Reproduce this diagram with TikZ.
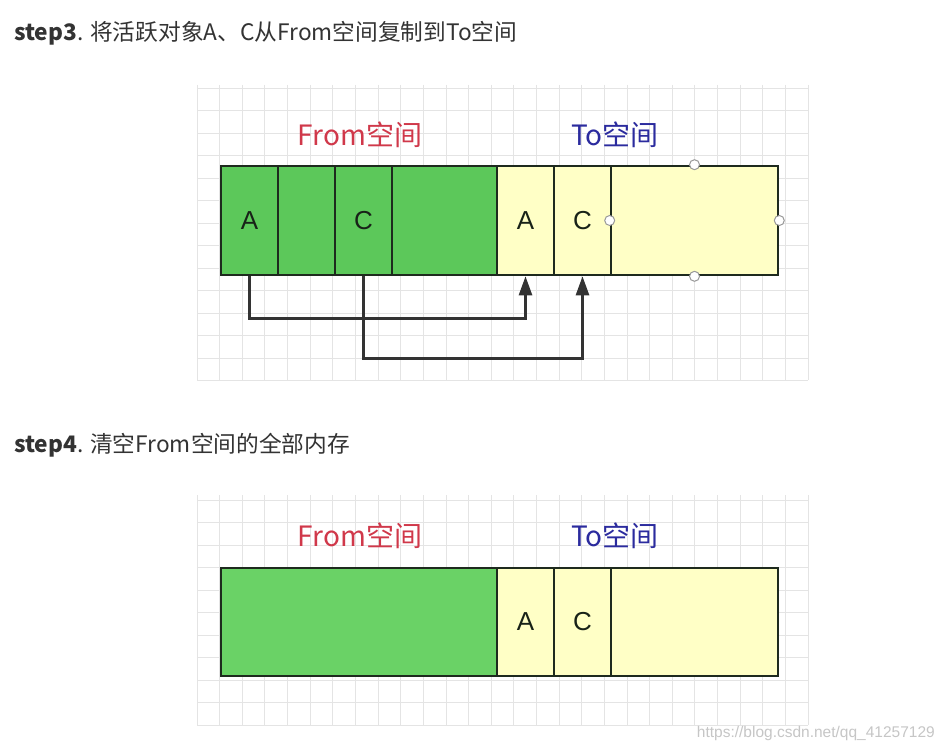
\documentclass[tikz,border=0pt]{standalone}
\usepackage{fontspec}
\setmainfont{Noto Sans CJK SC}
\newfontfamily\lat{Liberation Sans}
\usetikzlibrary{arrows.meta}
\definecolor{gridc}{HTML}{E4E4E4}
\definecolor{bord}{HTML}{1E2A1E}
\definecolor{greenA}{HTML}{5CC85A}
\definecolor{greenB}{HTML}{6AD266}
\definecolor{yel}{HTML}{FFFFC6}
\definecolor{redl}{HTML}{D0384A}
\definecolor{bluel}{HTML}{2B2B9E}
\definecolor{txt}{HTML}{333333}
\definecolor{arrc}{HTML}{333333}
\tikzset{
  cell/.style={draw=bord, line width=2.6pt, minimum height=109pt, inner sep=0pt, font=\lat\fontsize{26}{30}\selectfont, text=bord!80!black},
  gcell/.style={cell, fill=greenA},
  ycell/.style={cell, fill=yel},
  lbl/.style={font=\fontsize{28}{32}\selectfont, inner sep=0pt},
  conn/.style={draw=arrc, line width=2.6pt, -{Triangle[width=13pt,length=19pt]}},
  handle/.style={circle, draw=gray!80, fill=white, line width=1pt, minimum size=10pt, inner sep=0pt},
  ttl/.style={font=\fontsize{22.7}{27}\selectfont, text=txt, anchor=base west, inner sep=0pt},
  gl/.style={draw=gridc, line width=0.8pt}
}
\begin{document}
\begin{tikzpicture}[x=1pt,y=-1pt]
\useasboundingbox (0,0) rectangle (943,751);
\fill[white] (0,0) rectangle (943,751);
% grids
\foreach \i in {0,...,27} \draw[gl] (197+\i*22.63,85) -- (197+\i*22.63,380);
\foreach \j in {0,...,13} \draw[gl] (197,88+\j*22.5) -- (808,88+\j*22.5);
\foreach \i in {0,...,27} \draw[gl] (197+\i*22.63,495) -- (197+\i*22.63,725);
\foreach \j in {0,...,10} \draw[gl] (197,500+\j*22.5) -- (808,500+\j*22.5);
% titles
\node[ttl] (t3) at (14,41) {\textbf{step3}. 将活跃对象A、C从From空间复制到To空间};
\node[ttl] (t4) at (14,452) {\textbf{step4}. 清空From空间的全部内存};
% top diagram
\node[lbl, text=redl] (from1) at (360,135) {From空间};
\node[lbl, text=bluel] (to1) at (615,135) {To空间};
\node[gcell, minimum width=57pt] (g1) at (249.5,220.5) {A};
\node[gcell, minimum width=57pt] (g2) at (306.5,220.5) {};
\node[gcell, minimum width=57pt] (g3) at (363.5,220.5) {C};
\node[gcell, minimum width=105pt] (g4) at (444.5,220.5) {};
\node[ycell, minimum width=57pt] (y1) at (525.5,220.5) {A};
\node[ycell, minimum width=57pt] (y2) at (582.5,220.5) {C};
\node[ycell, minimum width=167pt] (y3) at (694.5,220.5) {};
\node[handle] (h1) at (y3.north) {};
\node[handle] (h2) at (y3.west) {};
\node[handle] (h3) at (y3.east) {};
\node[handle] (h4) at (y3.south) {};
\draw[conn] (g1.south) -- ++(0,42) -| (y1.south);
\draw[conn] (g3.south) -- ++(0,82) -| (y2.south);
% bottom diagram
\node[lbl, text=redl] (from2) at (360,536) {From空间};
\node[lbl, text=bluel] (to2) at (615,536) {To空间};
\node[cell, fill=greenB, minimum width=276pt, minimum height=108pt] (gb) at (359,622) {};
\node[ycell, minimum width=57pt, minimum height=108pt] (ya) at (525.5,622) {A};
\node[ycell, minimum width=57pt, minimum height=108pt] (yc) at (582.5,622) {C};
\node[ycell, minimum width=167pt, minimum height=108pt] (yr) at (694.5,622) {};
% watermark
\node[font=\lat\fontsize{15.5}{18}\selectfont, text=gray!45, anchor=east, inner sep=0pt] (wm) at (935,733) {https://blog.csdn.net/qq\_41257129};
\end{tikzpicture}
\end{document}
